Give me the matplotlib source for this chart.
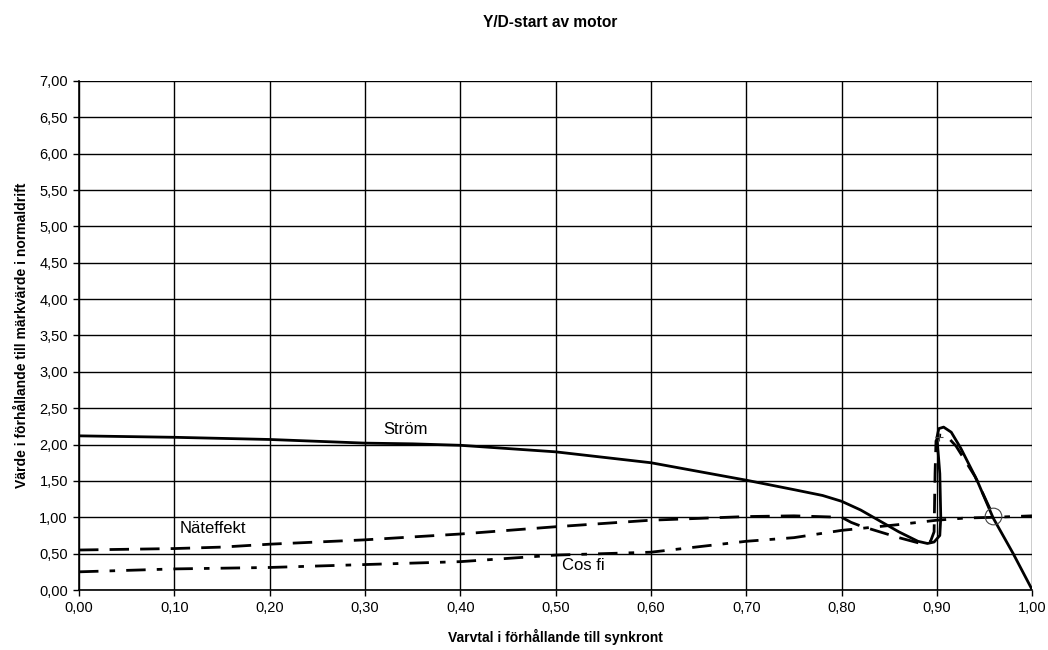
import matplotlib.pyplot as plt
import numpy as np
from matplotlib.ticker import FuncFormatter, MultipleLocator

plt.rcParams['font.family'] = ['Liberation Sans', 'DejaVu Sans']

# Ström (current)
strom_x = [0.00, 0.10, 0.20, 0.30, 0.35, 0.40, 0.50, 0.60, 0.70, 0.75, 0.78,
           0.80, 0.82, 0.84, 0.86, 0.88, 0.89, 0.897, 0.903, 0.904, 0.903,
           0.900, 0.902, 0.907, 0.915, 0.925, 0.942, 0.959, 0.98, 1.00]
strom_y = [2.12, 2.10, 2.07, 2.02, 2.01, 1.99, 1.90, 1.75, 1.51, 1.38, 1.30,
           1.22, 1.10, 0.95, 0.80, 0.67, 0.64, 0.66, 0.75, 1.00, 1.60,
           2.10, 2.22, 2.24, 2.17, 1.95, 1.51, 0.99, 0.50, 0.00]

# Näteffekt (power from grid)
nat_x = [0.00, 0.10, 0.15, 0.20, 0.30, 0.40, 0.50, 0.60, 0.70, 0.75, 0.80,
         0.81, 0.82, 0.84, 0.86, 0.88, 0.893, 0.897, 0.898, 0.899, 0.903,
         0.91, 0.92, 0.94, 0.959]
nat_y = [0.55, 0.57, 0.59, 0.63, 0.69, 0.77, 0.87, 0.96, 1.01, 1.02, 1.00,
         0.93, 0.88, 0.80, 0.72, 0.65, 0.66, 0.80, 1.60, 2.05, 2.13,
         2.12, 1.98, 1.56, 1.02]

# Cos fi (power factor)
cos_x = [0.00, 0.10, 0.20, 0.30, 0.40, 0.50, 0.60, 0.70, 0.75, 0.78, 0.80,
         0.83, 0.86, 0.88, 0.90, 0.93, 0.96, 1.00]
cos_y = [0.25, 0.29, 0.31, 0.35, 0.39, 0.48, 0.52, 0.67, 0.72, 0.78, 0.82,
         0.86, 0.90, 0.93, 0.96, 0.99, 1.00, 1.02]

# operating point and switch point
op_x, op_y = 0.959, 1.02
sw_x, sw_y = 0.902, 2.10

fig = plt.figure(figsize=(10.48, 6.5), dpi=100)
ax = fig.add_axes([0.0754, 0.0923, 0.9096, 0.7831])

ax.plot(strom_x, strom_y, color='black', lw=2.0, solid_joinstyle='round')
ax.plot(nat_x, nat_y, color='black', lw=2.0, dashes=(7, 4))
ax.plot(cos_x, cos_y, color='black', lw=2.0, dashes=(7, 4, 2, 4))
ax.plot(op_x, op_y, 'o', mfc='none', mec='#444444', ms=12, mew=0.8)
ax.plot(sw_x, sw_y, '+', color='#444444', ms=6, mew=0.8)

ax.text(0.319, 2.15, 'Ström', fontsize=12)
ax.text(0.106, 0.78, 'Näteffekt', fontsize=12)
ax.text(0.507, 0.275, 'Cos fi', fontsize=12)

ax.set_xlim(0, 1)
ax.set_ylim(0, 7)
ax.xaxis.set_major_locator(MultipleLocator(0.1))
ax.yaxis.set_major_locator(MultipleLocator(0.5))
fmt = FuncFormatter(lambda v, p: ('%.2f' % v).replace('.', ','))
ax.xaxis.set_major_formatter(fmt)
ax.yaxis.set_major_formatter(fmt)
ax.tick_params(labelsize=10.5, length=4, width=1, color='black', direction='out', pad=4)
ax.grid(True, color='black', lw=1)
ax.set_axisbelow(True)
for s in ['top', 'right']:
    ax.spines[s].set_visible(False)
for s in ['left', 'bottom']:
    ax.spines[s].set_linewidth(1.2)

fig.text(0.5296, 0.02, 'Varvtal i förhållande till synkront', fontsize=10,
         fontweight='bold', ha='center', va='center')
fig.text(0.021, 0.4846, 'Värde i förhållande till märkvärde i normaldrift', fontsize=10,
         fontweight='bold', ha='center', va='center', rotation=90)
fig.text(0.5248, 0.966, 'Y/D-start av motor', fontsize=11.2, fontweight='bold',
         ha='center', va='center')

fig.savefig('out.png', dpi=100)
